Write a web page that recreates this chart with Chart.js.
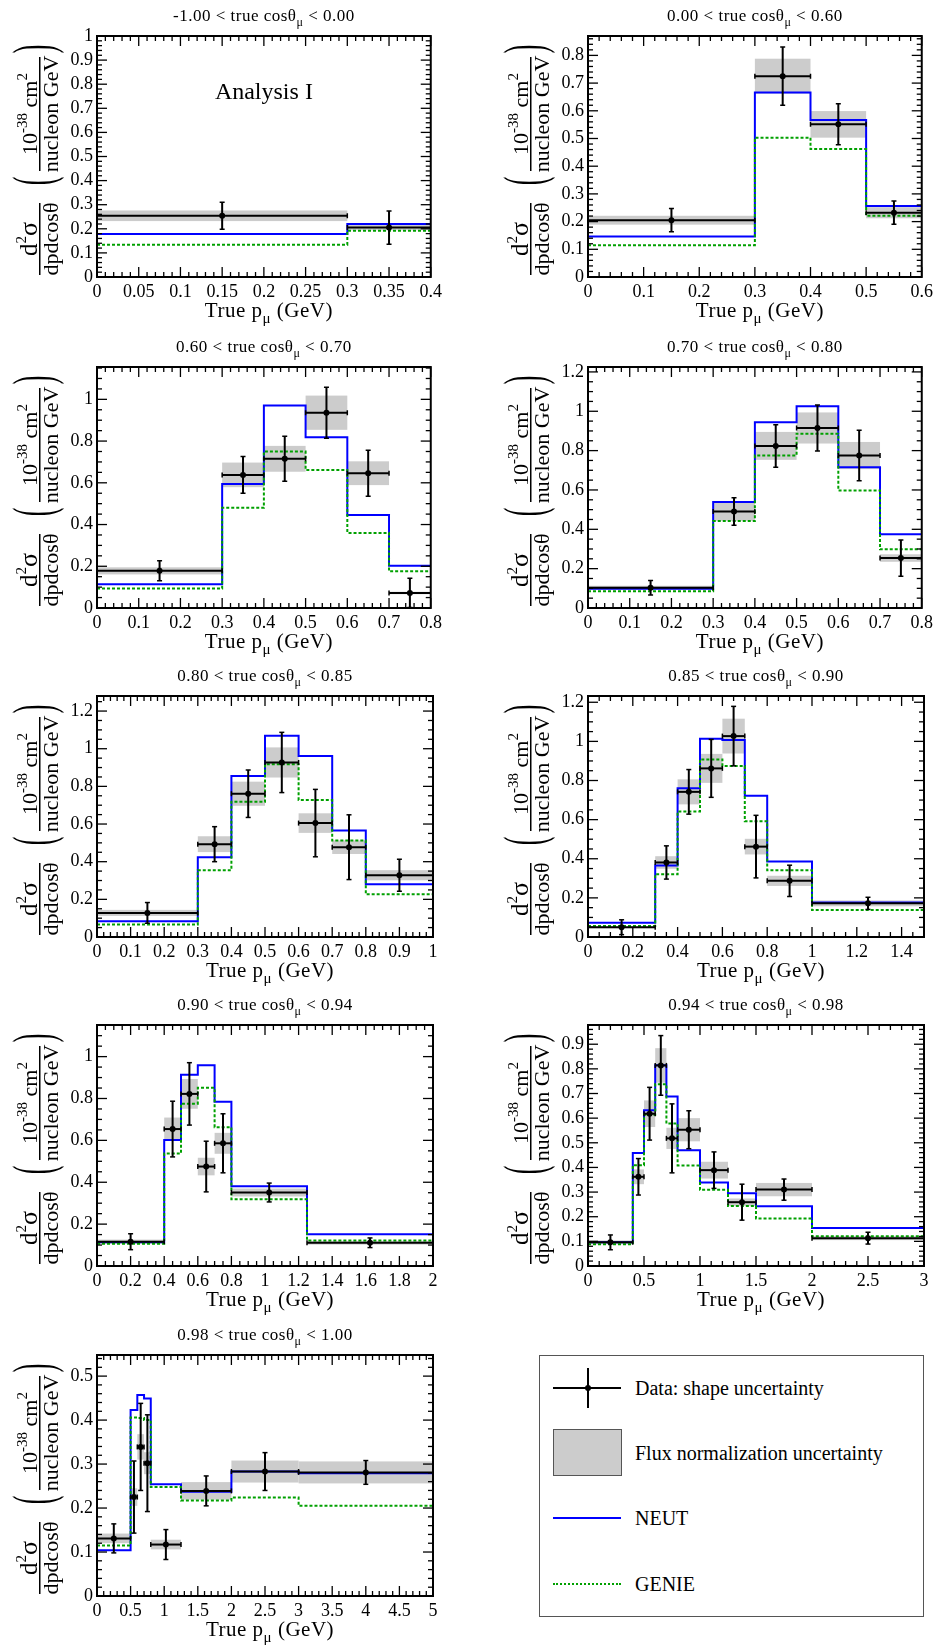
<!DOCTYPE html>
<html>
<head>
<meta charset="utf-8">
<script src="https://cdn.jsdelivr.net/npm/chart.js@4.4.1/dist/chart.umd.min.js"></script>
<style>
  body { margin: 0; width: 937px; height: 1652px; background: #fff; position: relative; overflow: hidden;
         font-family: "Liberation Serif", "Times New Roman", serif; }
  canvas { position: absolute; }
  #legend { position: absolute; left: 539px; top: 1355px; width: 385px; height: 262px;
            border: 1px solid #555; box-sizing: border-box; }
  #legend .sym { position: absolute; box-sizing: border-box; }
  #legend .lbl { position: absolute; left: 95px; font-size: 20px; line-height: 20px; color: #000; white-space: nowrap; }
</style>
</head>
<body>

<div id="legend">
  <div class="sym" style="left:13px;top:31px;width:68px;height:2px;background:#000"></div>
  <div class="sym" style="left:47px;top:12px;width:2px;height:40px;background:#000"></div>
  <div class="sym" style="left:45px;top:29px;width:6px;height:6px;border-radius:50%;background:#000"></div>
  <div class="lbl" style="top:22px">Data: shape uncertainty</div>
  <div class="sym" style="left:13px;top:73px;width:69px;height:47px;background:#ccc;border:1.5px solid #555"></div>
  <div class="lbl" style="top:87px">Flux normalization uncertainty</div>
  <div class="sym" style="left:13px;top:161px;width:68px;height:2px;background:#0000ff"></div>
  <div class="lbl" style="top:152px">NEUT</div>
  <div class="sym" style="left:13px;top:227px;width:68px;height:0;border-top:2px dotted #00a000"></div>
  <div class="lbl" style="top:218px">GENIE</div>
</div>

<script>
/**
 * DATA
 */
const cosLow  = ["-1.00", "0.00", "0.60", "0.70", "0.80", "0.85", "0.90", "0.94", "0.98"];
const cosHigh = ["0.00", "0.60", "0.70", "0.80", "0.85", "0.90", "0.94", "0.98", "1.00"];

const xMax  = [0.4, 0.6, 0.8, 0.8, 1, 1.5, 2, 3, 5];
const xStep = [0.05, 0.1, 0.1, 0.1, 0.1, 0.2, 0.2, 0.5, 0.5];
const yMax  = [1, 0.87, 1.155, 1.225, 1.28, 1.232, 1.151, 0.978, 0.548];
const yStep = [0.1, 0.1, 0.2, 0.2, 0.2, 0.2, 0.2, 0.1, 0.1];

// -1.00 < cos < 0.00
const edges1    = [0, 0.3, 0.4];
const data1     = [0.254, 0.205];
const shapeErr1 = [0.056, 0.069];
const fluxErr1  = [0.022, 0.011];
const neut1     = [0.178, 0.22];
const genie1    = [0.134, 0.192];

// 0.00 < cos < 0.60
const edges2    = [0, 0.3, 0.4, 0.5, 0.6];
const data2     = [0.205, 0.725, 0.551, 0.232];
const shapeErr2 = [0.042, 0.105, 0.074, 0.042];
const fluxErr2  = [0.016, 0.063, 0.048, 0.02];
const neut2     = [0.146, 0.666, 0.567, 0.256];
const genie2    = [0.115, 0.503, 0.462, 0.221];

// 0.60 < cos < 0.70
const edges3    = [0, 0.3, 0.4, 0.5, 0.6, 0.7, 0.8];
const data3     = [0.178, 0.638, 0.715, 0.936, 0.646, 0.072];
const shapeErr3 = [0.048, 0.088, 0.108, 0.122, 0.11, 0.07];
const fluxErr3  = [0.017, 0.059, 0.062, 0.082, 0.057, 0.006];
const neut3     = [0.114, 0.594, 0.97, 0.818, 0.446, 0.202];
const genie3    = [0.093, 0.48, 0.75, 0.661, 0.36, 0.176];

// 0.70 < cos < 0.80
const edges4    = [0, 0.3, 0.4, 0.5, 0.6, 0.7, 0.8];
const data4     = [0.103, 0.49, 0.824, 0.915, 0.775, 0.254];
const shapeErr4 = [0.037, 0.07, 0.108, 0.117, 0.128, 0.092];
const fluxErr4  = [0.01, 0.047, 0.071, 0.079, 0.069, 0.019];
const neut4     = [0.098, 0.539, 0.944, 1.025, 0.715, 0.375];
const genie4    = [0.085, 0.442, 0.775, 0.886, 0.597, 0.298];

// 0.80 < cos < 0.85
const edges5    = [0, 0.3, 0.4, 0.5, 0.6, 0.7, 0.8, 1.0];
const data5     = [0.128, 0.493, 0.761, 0.927, 0.605, 0.477, 0.328];
const shapeErr5 = [0.055, 0.093, 0.126, 0.16, 0.179, 0.172, 0.085];
const fluxErr5  = [0.016, 0.042, 0.064, 0.08, 0.052, 0.036, 0.027];
const neut5     = [0.083, 0.424, 0.855, 1.069, 0.961, 0.566, 0.28];
const genie5    = [0.067, 0.355, 0.718, 0.918, 0.727, 0.512, 0.227];

// 0.85 < cos < 0.90
const edges6    = [0, 0.3, 0.4, 0.5, 0.6, 0.7, 0.8, 1.0, 1.5];
const data6     = [0.05, 0.381, 0.742, 0.862, 1.027, 0.462, 0.287, 0.172];
const shapeErr6 = [0.038, 0.085, 0.114, 0.148, 0.152, 0.16, 0.08, 0.031];
const fluxErr6  = [0.005, 0.032, 0.064, 0.074, 0.089, 0.04, 0.026, 0.015];
const neut6     = [0.073, 0.365, 0.761, 1.014, 1.007, 0.722, 0.386, 0.176];
const genie6    = [0.056, 0.321, 0.642, 0.908, 0.874, 0.592, 0.341, 0.138];

// 0.90 < cos < 0.94
const edges7    = [0, 0.4, 0.5, 0.6, 0.7, 0.8, 1.25, 2.0];
const data7     = [0.116, 0.654, 0.822, 0.475, 0.586, 0.351, 0.111];
const shapeErr7 = [0.038, 0.133, 0.149, 0.121, 0.141, 0.045, 0.023];
const fluxErr7  = [0.01, 0.055, 0.071, 0.042, 0.05, 0.019, 0.009];
const neut7     = [0.113, 0.602, 0.913, 0.959, 0.784, 0.381, 0.152];
const genie7    = [0.106, 0.537, 0.775, 0.851, 0.663, 0.319, 0.122];

// 0.94 < cos < 0.98
const edges8    = [0, 0.4, 0.5, 0.6, 0.7, 0.8, 1.0, 1.25, 1.5, 2.0, 3.0];
const data8     = [0.096, 0.362, 0.618, 0.814, 0.518, 0.553, 0.389, 0.259, 0.31, 0.113];
const shapeErr8 = [0.03, 0.074, 0.107, 0.121, 0.14, 0.077, 0.074, 0.073, 0.043, 0.024];
const fluxErr8  = [0.008, 0.03, 0.054, 0.07, 0.043, 0.047, 0.034, 0.015, 0.027, 0.008];
const neut8     = [0.096, 0.459, 0.632, 0.815, 0.688, 0.47, 0.339, 0.295, 0.242, 0.154];
const genie8    = [0.088, 0.409, 0.614, 0.738, 0.578, 0.408, 0.309, 0.243, 0.193, 0.121];

// 0.98 < cos < 1.00
const edges9    = [0, 0.5, 0.6, 0.7, 0.8, 1.25, 2.0, 3.0, 5.0];
const data9     = [0.131, 0.225, 0.339, 0.302, 0.117, 0.239, 0.283, 0.281];
const shapeErr9 = [0.033, 0.082, 0.099, 0.11, 0.034, 0.034, 0.043, 0.027];
const fluxErr9  = [0.011, 0.02, 0.029, 0.025, 0.011, 0.02, 0.025, 0.025];
const neut9     = [0.104, 0.423, 0.457, 0.449, 0.254, 0.237, 0.283, 0.279];
const genie9    = [0.115, 0.406, 0.405, 0.4, 0.248, 0.217, 0.224, 0.205];

const panels = [
  {edges: edges1, data: data1, shapeErr: shapeErr1, fluxErr: fluxErr1, neut: neut1, genie: genie1},
  {edges: edges2, data: data2, shapeErr: shapeErr2, fluxErr: fluxErr2, neut: neut2, genie: genie2},
  {edges: edges3, data: data3, shapeErr: shapeErr3, fluxErr: fluxErr3, neut: neut3, genie: genie3},
  {edges: edges4, data: data4, shapeErr: shapeErr4, fluxErr: fluxErr4, neut: neut4, genie: genie4},
  {edges: edges5, data: data5, shapeErr: shapeErr5, fluxErr: fluxErr5, neut: neut5, genie: genie5},
  {edges: edges6, data: data6, shapeErr: shapeErr6, fluxErr: fluxErr6, neut: neut6, genie: genie6},
  {edges: edges7, data: data7, shapeErr: shapeErr7, fluxErr: fluxErr7, neut: neut7, genie: genie7},
  {edges: edges8, data: data8, shapeErr: shapeErr8, fluxErr: fluxErr8, neut: neut8, genie: genie8},
  {edges: edges9, data: data9, shapeErr: shapeErr9, fluxErr: fluxErr9, neut: neut9, genie: genie9}
];

/**
 * STYLE
 */
const SERIF = '"Liberation Serif", "Times New Roman", serif';
const BLUE = "#0000ff";
const GREEN = "#00a000";
const GREY = "#cccccc";
const rowTops = [0, 331, 660, 989, 1319];
const xMinorDiv = [5, 5, 5, 5, 5, 4, 4, 5, 5];
const yMinorDiv = [5, 5, 4, 4, 4, 4, 4, 5, 5];


/**
 * AUX
 */
const fmt = (v) => String(parseFloat(Number(v).toFixed(3)));

const stepPoints = (edges, vals) =>
  edges.map((e, k) => ({x: e, y: vals[Math.min(k, vals.length - 1)]}));

// draws a run of [text, size, dy] pieces (for sub/superscripts)
const drawParts = (ctx, parts, x, y, align) => {
  let total = 0;
  parts.forEach(([t, s]) => {
    ctx.font = `${s}px ${SERIF}`;
    total += ctx.measureText(t).width;
  });
  let cx = align === "center" ? x - total / 2 : x;
  ctx.textAlign = "left";
  ctx.textBaseline = "alphabetic";
  parts.forEach(([t, s, dy]) => {
    ctx.font = `${s}px ${SERIF}`;
    ctx.fillText(t, cx, y + (dy || 0));
    cx += ctx.measureText(t).width;
  });
};

const seg = (ctx, x0, y0, x1, y1) => {
  ctx.beginPath();
  ctx.moveTo(x0, y0);
  ctx.lineTo(x1, y1);
  ctx.stroke();
};

// rotated frame: u = top - screenY, v = screenX - left
const drawYTitle = (ctx, area) => {
  ctx.save();
  ctx.translate(area.left, area.top);
  ctx.rotate(-Math.PI / 2);
  ctx.fillStyle = "#000";
  drawParts(ctx, [["d", 25], ["2", 15, -11], ["σ", 26]], -203, -60, "center");
  ctx.fillRect(-239, -58, 72, 1.5);
  drawParts(ctx, [["dpdcosθ", 22]], -203, -39, "center");
  drawParts(ctx, [["10", 22], ["-38", 15, -10], [" cm", 22], ["2", 15, -10]], -78, -60, "center");
  ctx.fillRect(-135, -58, 114, 1.5);
  drawParts(ctx, [["nucleon GeV", 22]], -78, -39, "center");
  [["(", -145], [")", -13]].forEach(([ch, u]) => {
    ctx.save();
    ctx.translate(u, -45);
    ctx.scale(0.45, 1);
    ctx.font = `58px ${SERIF}`;
    ctx.textAlign = "center";
    ctx.fillText(ch, 0, 0);
    ctx.restore();
  });
  ctx.restore();
};

const panelPlugin = (i) => ({
  id: "panel" + i,
  beforeDatasetsDraw(chart) {
    const {ctx, chartArea: a, scales: {x, y}} = chart;
    const p = panels[i];
    ctx.save();
    ctx.beginPath();
    ctx.rect(a.left, a.top, a.right - a.left, a.bottom - a.top);
    ctx.clip();
    ctx.fillStyle = GREY;
    p.data.forEach((v, k) => {
      const x0 = x.getPixelForValue(p.edges[k]);
      const x1 = x.getPixelForValue(p.edges[k + 1]);
      const y0 = y.getPixelForValue(v + p.fluxErr[k]);
      const y1 = y.getPixelForValue(v - p.fluxErr[k]);
      ctx.fillRect(x0, y0, x1 - x0, y1 - y0);
    });
    ctx.restore();
  },
  afterDatasetsDraw(chart) {
    const {ctx, chartArea: a, scales: {x, y}} = chart;
    const p = panels[i];
    ctx.save();
    ctx.beginPath();
    ctx.rect(a.left, a.top, a.right - a.left, a.bottom - a.top);
    ctx.clip();
    ctx.strokeStyle = "#000";
    ctx.lineWidth = 2;
    p.data.forEach((v, k) => {
      const x0 = x.getPixelForValue(p.edges[k]);
      const x1 = x.getPixelForValue(p.edges[k + 1]);
      const xc = x.getPixelForValue((p.edges[k] + p.edges[k + 1]) / 2);
      const yc = y.getPixelForValue(v);
      const yt = y.getPixelForValue(v + p.shapeErr[k]);
      const yb = y.getPixelForValue(v - p.shapeErr[k]);
      seg(ctx, x0, yc, x1, yc);
      seg(ctx, xc, yt, xc, yb);
      ctx.lineWidth = 1.5;
      seg(ctx, x0, yc - 2.5, x0, yc + 2.5);
      seg(ctx, x1, yc - 2.5, x1, yc + 2.5);
      seg(ctx, xc - 2.5, yt, xc + 2.5, yt);
      seg(ctx, xc - 2.5, yb, xc + 2.5, yb);
      ctx.lineWidth = 2;
    });
    ctx.restore();
  },
  afterDraw(chart) {
    const {ctx, chartArea: a, scales: {x, y}} = chart;
    ctx.save();
    ctx.strokeStyle = "#000";
    ctx.fillStyle = "#000";

    // inward ticks on all four sides
    ctx.lineWidth = 1.3;
    const xm = xStep[i] / xMinorDiv[i];
    for (let k = 0; k * xm <= xMax[i] + 1e-9; k++) {
      const len = k % xMinorDiv[i] === 0 ? 10 : 5;
      const px = x.getPixelForValue(k * xm);
      seg(ctx, px, a.bottom, px, a.bottom - len);
      seg(ctx, px, a.top, px, a.top + len);
    }
    const ym = yStep[i] / yMinorDiv[i];
    for (let k = 0; k * ym <= yMax[i] + 1e-9; k++) {
      const len = k % yMinorDiv[i] === 0 ? 10 : 5;
      const py = y.getPixelForValue(k * ym);
      seg(ctx, a.left, py, a.left + len, py);
      seg(ctx, a.right, py, a.right - len, py);
    }

    // frame
    ctx.lineWidth = 2;
    ctx.strokeRect(a.left, a.top, a.right - a.left, a.bottom - a.top);

    // titles
    const cx = (a.left + a.right) / 2;
    ctx.letterSpacing = "0.5px";
    drawParts(ctx, [[`${cosLow[i]} < true cosθ`, 17], ["μ", 12, 5], [` < ${cosHigh[i]}`, 17]], cx, a.top - 15, "center");
    drawParts(ctx, [["True p", 21], ["μ", 15, 6], [" (GeV)", 21]], cx + 5, a.bottom + 40, "center");
    ctx.letterSpacing = "0px";
    drawYTitle(ctx, a);

    if (i === 0) {
      ctx.font = `24px ${SERIF}`;
      ctx.textAlign = "center";
      ctx.fillText("Analysis I", x.getPixelForValue(0.2), y.getPixelForValue(0.74));
    }
    ctx.restore();
  }
});

const axisOptions = (max, step, fit) => ({
  type: "linear",
  min: 0,
  max: max,
  grid: {display: false, drawTicks: false},
  border: {display: false},
  ticks: {
    stepSize: step,
    includeBounds: false,
    autoSkip: false,
    maxRotation: 0,
    padding: 4,
    color: "#000",
    font: {family: SERIF, size: 18},
    callback: fmt
  },
  afterFit: fit
});

const setChart = (i) => {
  const p = panels[i];
  const canvas = document.createElement("canvas");
  canvas.width = 446;
  canvas.height = 330;
  canvas.style.left = (i % 2 ? 491 : 0) + "px";
  canvas.style.top = rowTops[Math.floor(i / 2)] + "px";
  document.body.appendChild(canvas);

  return new Chart(canvas, {
    type: "line",
    data: {
      datasets: [
        {
          label: "Data",
          data: p.data.map((v, k) => ({x: (p.edges[k] + p.edges[k + 1]) / 2, y: v})),
          showLine: false,
          pointRadius: 3,
          pointBackgroundColor: "#000",
          pointBorderWidth: 0
        },
        {
          label: "GENIE",
          data: stepPoints(p.edges, p.genie),
          stepped: true,
          borderColor: GREEN,
          borderWidth: 2,
          borderDash: [3, 2],
          pointRadius: 0,
          fill: false
        },
        {
          label: "NEUT",
          data: stepPoints(p.edges, p.neut),
          stepped: true,
          borderColor: BLUE,
          borderWidth: 2,
          pointRadius: 0,
          fill: false
        }
      ]
    },
    options: {
      responsive: false,
      animation: false,
      events: [],
      layout: {padding: {top: 36, right: 13, left: 0, bottom: 0}},
      plugins: {legend: {display: false}, tooltip: {enabled: false}, title: {display: false}},
      scales: {
        x: axisOptions(xMax[i], xStep[i], (s) => { s.height = 53; }),
        y: axisOptions(yMax[i], yStep[i], (s) => { s.width = 97; })
      }
    },
    plugins: [panelPlugin(i)]
  });
};

document.addEventListener("DOMContentLoaded", () => {
  panels.forEach((p, i) => setChart(i));
});
</script>
</body>
</html>
